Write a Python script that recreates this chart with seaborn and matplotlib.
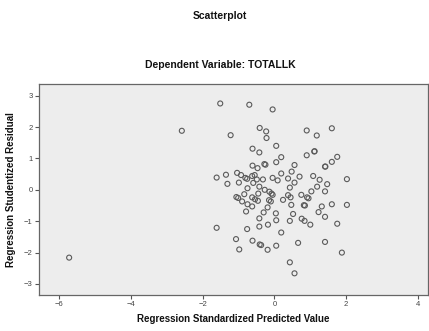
import seaborn as sns
import matplotlib.pyplot as plt
import pandas as pd

# standardized predicted value (x) and studentized residual (y)
pred = [
    -1.51, -0.70, -0.05, -0.41, -0.23, -0.22, -1.22, 0.90, 1.18, 1.60,
    -0.61, -0.42, 0.05, 0.90, 1.11, 1.12, 1.75, 1.60, 1.41, 1.42,
    -0.28, -0.25, -0.61, -0.47, 0.05, 0.19, 0.56, 0.48, 0.19, 0.70,
    1.08, 1.26, 2.02, -1.61, -1.35, -1.31, -1.04, -0.93, -0.81, -0.76,
    -0.99, -0.62, -0.55, -0.49, -0.32, -0.05, 0.09, 0.38, 0.56, 0.43,
    1.47, 1.19, 1.03, 1.41, -0.75, -0.59, -0.42, -0.27, -0.14, -0.08,
    -0.05, -1.06, -1.01, -0.84, -0.90, -0.75, -0.62, -0.54, -0.45, -0.46,
    -0.62, -0.79, -0.15, -0.10, -0.19, -0.30, -0.42, -0.42, -0.18, 0.05,
    0.04, 0.24, 0.38, 0.45, 0.47, 0.52, 0.43, 0.75, 0.91, 0.95,
    0.82, 0.85, 0.76, 0.84, 1.00, 1.32, 1.23, 1.41, 1.60, 2.02,
    1.75, -0.76, -1.61, 0.19, -1.07, -0.61, -0.41, -0.37, -0.19, 0.05,
    -0.98, 0.66, 1.41, 1.88, 0.43, 0.56, -2.58, -5.72,
]
resid = [
    2.75, 2.71, 2.56, 1.97, 1.86, 1.65, 1.74, 1.89, 1.73, 1.96,
    1.31, 1.19, 1.40, 1.10, 1.22, 1.23, 1.05, 0.89, 0.74, 0.74,
    0.82, 0.80, 0.77, 0.69, 0.88, 1.04, 0.79, 0.58, 0.52, 0.42,
    0.44, 0.32, 0.34, 0.39, 0.48, 0.19, 0.54, 0.47, 0.38, 0.35,
    0.23, 0.44, 0.47, 0.33, 0.33, 0.38, 0.30, 0.36, 0.23, 0.07,
    0.18, 0.10, -0.05, -0.05, 0.05, 0.22, 0.10, 0.00, -0.06, -0.12,
    -0.16, -0.23, -0.26, -0.14, -0.37, -0.46, -0.24, -0.30, -0.12, -0.35,
    -0.53, -0.69, -0.33, -0.37, -0.56, -0.72, -0.91, -1.17, -1.11, -0.97,
    -0.75, -0.32, -0.17, -0.24, -0.48, -0.77, -0.99, -0.16, -0.24, -0.27,
    -0.49, -0.50, -0.92, -0.99, -1.11, -0.53, -0.71, -0.86, -0.46, -0.48,
    -1.08, -1.25, -1.21, -1.36, -1.57, -1.62, -1.74, -1.76, -1.91, -1.78,
    -1.90, -1.69, -1.66, -2.00, -2.31, -2.66, 1.88, -2.16,
]

df = pd.DataFrame({"pred": pred, "resid": resid})

sns.set_style("white")
plt.rcParams["font.family"] = ["Liberation Sans", "DejaVu Sans"]
plt.rcParams["text.color"] = "#111111"
plt.rcParams["axes.labelcolor"] = "#111111"

fig = plt.figure(figsize=(4.29, 3.31), dpi=100)
ax = fig.add_axes([0.0909, 0.1088, 0.9068, 0.6374])
ax.set_facecolor("#ededed")

sns.scatterplot(data=df, x="pred", y="resid", ax=ax, marker="o",
                facecolors="none", edgecolor="#5a5a5a", linewidth=0.8, s=13)

ax.set_xlim(-6.56, 4.28)
ax.set_ylim(-3.35, 3.37)
ax.set_xticks([-6, -4, -2, 0, 2, 4])
ax.set_yticks([-3, -2, -1, 0, 1, 2, 3])
ax.tick_params(axis="both", direction="out", length=3, width=0.8,
               colors="#555555", labelsize=5.5, pad=1.5, labelcolor="#444444")
ax.xaxis.set_ticks_position("bottom")
ax.yaxis.set_ticks_position("left")
for s in ax.spines.values():
    s.set_color("#666666")
    s.set_linewidth(0.9)

ax.set_xlabel("Regression Standardized Predicted Value", fontsize=7,
              fontweight="bold", labelpad=4)
ax.set_ylabel("Regression Studentized Residual", fontsize=7,
              fontweight="bold", labelpad=6)

fig.text(0.513, 0.952, "Scatterplot", ha="center", va="center",
         fontsize=7.5, fontweight="bold")
fig.text(0.513, 0.805, "Dependent Variable: TOTALLK", ha="center",
         va="center", fontsize=7.5, fontweight="bold")

fig.savefig("out.png", dpi=100)
plt.close(fig)
